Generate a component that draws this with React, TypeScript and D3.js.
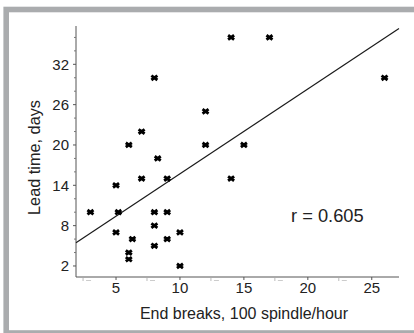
import React from "react";
import * as d3 from "d3";

// Data
const endBreaks: number[] = [14, 17, 8, 26, 12, 7, 6, 12, 15, 8.26, 7, 9, 14, 5, 3, 5.18, 8, 9, 8, 5, 10, 6.28, 9, 8, 6, 6, 10];
const leadTime: number[] = [36, 36, 30, 30, 25, 22, 20, 20, 20, 18, 15, 15, 15, 14, 10, 10, 10, 10, 8, 7, 7, 6, 6, 5, 4, 3, 2];
const xTickValues: number[] = [5, 10, 15, 20, 25];
const xMinorTickValues: number[] = [2.5, 7.5, 12.5, 17.5, 22.5];
const yTickValues: number[] = [2, 8, 14, 20, 26, 32];
const yMinorTickValues: number[] = [4, 6, 10, 12, 16, 18, 22, 24, 28, 30, 34, 36];
const xDomain: [number, number] = [1.87, 27.13];
const yDomain: [number, number] = [0.36, 37.7];
const rLabel = "r = 0.605";
const xTitle = "End breaks, 100 spindle/hour";
const yTitle = "Lead time, days";

const W = 414;
const H = 333;
const FONT = "'Liberation Sans', Arial, Helvetica, sans-serif";

export default function App() {
  const x = d3.scaleLinear().domain(xDomain).range([76, 399]);
  const y = d3.scaleLinear().domain(yDomain).range([277, 26]);

  // least-squares fit
  const mx = d3.mean(endBreaks) as number;
  const my = d3.mean(leadTime) as number;
  let sxy = 0, sxx = 0;
  endBreaks.forEach((v, i) => {
    sxy += (v - mx) * (leadTime[i] - my);
    sxx += (v - mx) * (v - mx);
  });
  const slope = sxy / sxx;
  const intercept = my - slope * mx;
  const line = d3
    .line<number>()
    .x((d) => x(d))
    .y((d) => y(intercept + slope * d));

  const markerPath = "M-3,-2.2L3,2.2M-3,2.2L3,-2.2";
  const axisColor = "#555";
  const textColor = "#222";

  return (
    <svg
      width={W}
      height={H}
      style={{ position: "absolute", left: 0, top: 0, background: "#fff" }}
      fontFamily={FONT}
    >
      <rect x={0} y={0} width={W} height={H} fill="#fff" />
      {/* frame */}
      <rect x={6.2} y={9.5} width={430} height={323.5} fill="none" stroke="#aaacae" strokeWidth={5.6} />

      {/* y axis */}
      <line x1={76} x2={76} y1={26} y2={277} stroke={axisColor} strokeWidth={1} />
      {yTickValues.map((t) => (
        <g key={"yt" + t}>
          <line x1={73} x2={76} y1={y(t)} y2={y(t)} stroke={axisColor} strokeWidth={1} />
          <text x={69} y={y(t)} dy="0.36em" textAnchor="end" fontSize={15} fill={textColor}>
            {t}
          </text>
        </g>
      ))}
      {yMinorTickValues.map((t) => (
        <line key={"ym" + t} x1={74} x2={76} y1={y(t)} y2={y(t)} stroke="#777" strokeWidth={1} />
      ))}

      {/* x axis */}
      <line x1={76} x2={399} y1={277} y2={277} stroke={axisColor} strokeWidth={1} />
      {xTickValues.map((t) => (
        <g key={"xt" + t}>
          <line x1={x(t)} x2={x(t)} y1={277} y2={280} stroke={axisColor} strokeWidth={1} />
          <text x={x(t)} y={293} textAnchor="middle" fontSize={15} fill={textColor}>
            {t}
          </text>
        </g>
      ))}
      {xMinorTickValues.map((t) => (
        <g key={"xm" + t}>
          <line x1={x(t) - 1} x2={x(t) - 1} y1={278} y2={281} stroke="#bbb" strokeWidth={1} />
          <line x1={x(t) + 2} x2={x(t) + 7} y1={280.5} y2={280.5} stroke="#ccc" strokeWidth={1} />
        </g>
      ))}

      {/* regression line */}
      <path d={line(xDomain) as string} fill="none" stroke="#1a1a1a" strokeWidth={1.2} />

      {/* points */}
      {endBreaks.map((v, i) => (
        <path
          key={"p" + i}
          d={markerPath}
          transform={`translate(${x(v)},${y(leadTime[i])})`}
          stroke="#000"
          strokeWidth={2.9}
          fill="none"
        />
      ))}

      {/* annotations */}
      <text x={291} y={222} fontSize={18.3} fill={textColor}>
        {rLabel}
      </text>
      <text x={244} y={319} textAnchor="middle" fontSize={16} fill={textColor}>
        {xTitle}
      </text>
      <text
        transform={`translate(39.5,157.5) rotate(-90)`}
        textAnchor="middle"
        fontSize={16.3}
        fill={textColor}
      >
        {yTitle}
      </text>
    </svg>
  );
}
